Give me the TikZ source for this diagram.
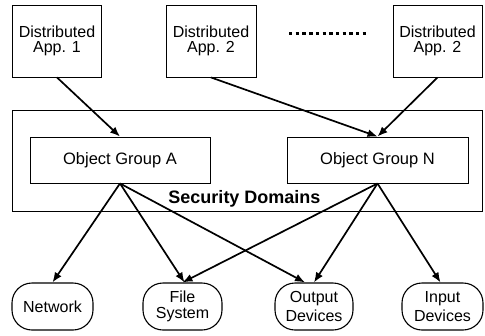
\documentclass[tikz,border=0pt]{standalone}
\usepackage{fontspec}
\setmainfont{Liberation Sans}
\usetikzlibrary{arrows.meta}

\tikzset{
  appbox/.style={draw, line width=0.9pt, minimum width=89pt, minimum height=72pt,
    align=center, inner sep=0pt, font=\fontsize{16}{15.5}\selectfont},
  groupbox/.style={draw, line width=0.9pt, minimum height=46pt, inner sep=0pt,
    font=\fontsize{16.5}{18}\selectfont},
  domainbox/.style={draw, line width=0.9pt, minimum width=470pt, minimum height=101pt, inner sep=0pt},
  resource/.style={draw, line width=1.1pt, rounded corners=20pt, minimum height=47pt,
    inner sep=0pt, align=center, font=\fontsize{16}{19.5}\selectfont},
  link/.style={line width=1.7pt, -{Latex[length=10pt,width=8pt]}}
}

\begin{document}
\begin{tikzpicture}[x=1pt, y=-1pt]
  \useasboundingbox (0,0) rectangle (485,335);

  % applications
  \node[appbox] (app1) at (57,41) {Distributed\\App. 1};
  \node[appbox, minimum width=90pt] (app2) at (211,41) {Distributed\\App. 2};
  \node[appbox] (app3) at (437.5,41) {Distributed\\App. 2};
  \draw[line width=3pt, dash pattern=on 3.4pt off 3.3pt] (289,33) -- (368,33);

  % security domains with the object groups
  \node[domainbox] (dom) at (247,160.5) {};
  \node[groupbox, minimum width=180pt] (grpA) at (120,160) {Object Group A};
  \node[groupbox, minimum width=181pt] (grpN) at (377.5,160) {Object Group N};
  \node[font=\bfseries\fontsize{18}{20}\selectfont, inner sep=0pt] (domlabel) at (244.5,199) {Security Domains};

  % system resources
  \node[resource, minimum width=81pt] (net) at (52.5,306.5) {\raisebox{-3pt}{Network}};
  \node[resource, minimum width=79pt] (fs) at (182.5,306.5) {\raisebox{-2pt}{\shortstack{File\\[1pt]System}}};
  \node[resource, minimum width=78pt] (out) at (314,306.5) {\raisebox{-2pt}{\shortstack{Output\\[1pt]Devices}}};
  \node[resource, minimum width=81pt] (inp) at (442.5,306.5) {\raisebox{-2pt}{\shortstack{Input\\[1pt]Devices}}};

  % connectors
  \draw[link] (app1.south) -- (grpA.north);
  \draw[link] (app2.south) -- (grpN.north);
  \draw[link] (app3.south) -- (grpN.north);

  \draw[link] (grpA.south) -- (net.north);
  \draw[link] (grpA.south) -- ([xshift=2pt]fs.north);
  \draw[link] (grpA.south) -- ([xshift=-9pt]out.north);
  \draw[link] (grpN.south) -- (fs.north);
  \draw[link] (grpN.south) -- (out.north);
  \draw[link] (grpN.south) -- ([xshift=-2pt]inp.north);
\end{tikzpicture}
\end{document}
